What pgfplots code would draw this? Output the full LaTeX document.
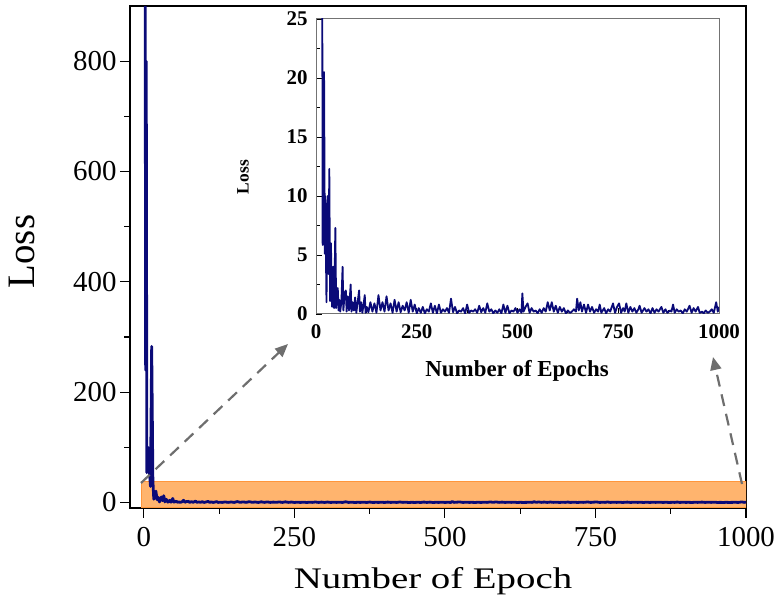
\documentclass[border=0pt]{standalone}
\usepackage{pgfplots}
\pgfplotsset{compat=1.18}
\usepackage{pgfplotstable}
\usepackage{fontspec}
\setmainfont{Liberation Serif}
\usetikzlibrary{arrows.meta}
\definecolor{navy}{RGB}{10,10,120}
\definecolor{boxfill}{RGB}{255,180,110}
\definecolor{boxdraw}{RGB}{255,150,60}
\definecolor{arr}{RGB}{110,110,110}

\pgfplotstableread{
x y
1 2000
3 240
4 800
5 54
7 100
9 60
11 29
13 283
15 40
16.5 5.85
18 15
20 20.5
22 5.1
23 10
26 1.0
29 10
31 3.4
33 12.3
35 1.1
37 6
40 0.6
43 4
45 0.5
48 7.3
50 0.5
52 1.5
54 2.2
56 0.3
58 1.2
60 0.2
63 1.0
66 4.0
68 0.3
71 1.8
74 2.0
76 0.2
79 1.5
82 0.3
86 2.5
88 0.2
91 1.0
94 0.3
97 1.4
100 0.1
103 0.9
107 2.0
109 0.2
112 1.0
115 0.1
118 0.8
121 1.6
123 0.1
126 0.6
130 0.15
135 1.0
140 0.2
145 0.9
150 0.1
155 1.6
160 0.3
165 1.0
170 0.2
175 1.5
180 0.3
185 0.9
190 0.1
195 1.2
200 0.2
205 1.0
210 0.15
215 0.7
220 0.3
225 1.0
230 0.1
235 1.2
240 0.2
245 0.8
250 0.05
255 0.5
260 0.1
265 0.6
270 0.05
275 0.4
280 0.2
285 0.9
290 0.1
295 0.7
300 0.05
305 0.8
310 0.1
315 0.4
320 0.2
325 0.5
330 0.1
335 1.3
340 0.15
345 0.6
350 0.05
355 0.3
360 0.2
365 0.5
370 0.05
375 0.8
380 0.1
385 0.3
390 0.2
395 0.4
400 0.1
405 0.7
410 0.15
415 0.5
420 0.1
425 0.9
430 0.2
435 0.4
440 0.05
445 0.3
450 0.1
455 0.4
460 0.05
465 0.8
470 0.1
475 0.7
480 0.05
485 0.3
490 0.2
495 0.5
500 0.1
505 0.4
510 0.1
512 1.75
515 0.2
520 0.6
525 0.9
530 0.1
535 0.5
540 0.2
545 0.3
550 0.05
555 0.4
560 0.1
565 0.5
570 0.2
575 1.0
580 0.3
585 1.0
590 0.2
595 0.7
600 0.1
605 0.6
610 0.2
615 0.5
620 0.05
625 0.3
630 0.1
635 0.2
640 0.4
645 0.2
648 1.3
652 0.3
656 1.0
660 0.2
665 0.8
670 0.1
675 0.8
680 0.2
685 0.6
690 0.1
695 0.4
700 0.2
704 0.8
708 0.1
715 0.5
720 0.05
725 0.4
730 0.2
737 0.9
742 0.1
747 0.6
752 0.9
757 0.1
762 0.5
766 0.2
770 0.9
775 0.1
780 0.6
785 0.2
790 0.5
795 0.1
800 0.4
803 0.7
808 0.1
815 0.5
820 0.2
825 0.4
830 0.05
835 0.5
840 0.1
845 0.4
850 0.2
857 0.6
862 0.1
867 0.4
872 0.1
878 0.3
882 0.2
886 0.8
890 0.1
895 0.4
900 0.2
905 0.3
910 0.05
915 0.4
920 0.2
927 0.7
932 0.1
937 0.5
942 0.2
948 0.6
952 0.1
958 0.2
962 0.05
967 0.3
972 0.1
977 0.2
982 0.4
987 0.1
993 1.0
997 0.2
1000 0.6
}\lossdata

\begin{document}
\begin{tikzpicture}
\useasboundingbox (0bp,0bp) rectangle (778bp,612bp);
\begin{axis}[at={(130bp,104bp)}, anchor=south west, scale only axis,
  width=616bp, height=502bp,
  xmin=-23, xmax=1000, ymin=-10, ymax=900,
  xtick={0,250,500,750,1000}, ytick={0,200,400,600,800},
  minor x tick num=1, minor y tick num=1,
  tick align=outside, xtick pos=bottom, ytick pos=left,
  major tick length=10bp, minor tick length=6bp,
  tick style={black, line width=1.1bp},
  axis line style={line width=1.2bp},
  ticklabel style={font=\fontsize{29}{29}\selectfont},
  xticklabel style={yshift=-6bp},
  /pgf/number format/assume math mode=true,
  /pgf/number format/1000 sep={},
  scaled ticks=false,
  xlabel={\scalebox{1.3}[1]{Number of Epoch}},
  xlabel style={font=\fontsize{30}{30}\selectfont, at={(axis description cs:0.492,-0.145)}, anchor=center},
  ylabel={Loss},
  ylabel style={font=\fontsize{39}{39}\selectfont, at={(axis description cs:-0.175,0.511)}, anchor=center},
  restrict y to domain*=-20:3000,
]
\fill[boxfill, draw=boxdraw, line width=1bp] (axis cs:-4,-9) rectangle (axis cs:1000,38);
\addplot[navy, line width=2.8bp, line join=round] table {\lossdata};
\end{axis}

\begin{axis}[at={(316bp,298bp)}, anchor=south west, scale only axis,
  width=403bp, height=295bp,
  xmin=0, xmax=1000, ymin=0, ymax=25,
  xtick={0,250,500,750,1000}, ytick={0,5,10,15,20,25},
  minor x tick num=1, minor y tick num=1,
  tick align=inside, xtick pos=bottom, ytick pos=left,
  major tick length=6bp, minor tick length=3.5bp,
  tick style={black, line width=0.8bp},
  axis line style={draw=black!55, line width=1bp},
  axis background/.style={fill=white},
  ticklabel style={font=\bfseries\fontsize{21}{21}\selectfont},
  xticklabel style={yshift=-7bp},
  yticklabel style={xshift=-5bp},
  /pgf/number format/assume math mode=true,
  /pgf/number format/1000 sep={},
  scaled ticks=false,
  xlabel={Number of Epochs},
  xlabel style={font=\bfseries\fontsize{23}{23}\selectfont, at={(axis description cs:0.499,-0.193)}, anchor=center},
  ylabel={Loss},
  ylabel style={font=\bfseries\fontsize{17.5}{17.5}\selectfont, at={(axis description cs:-0.181,0.464)}, anchor=center},
  restrict y to domain*=-1:60,
]
\addplot[navy, line width=1.8bp, line join=round] table {\lossdata};
\end{axis}

\draw[arr, line width=2.2bp, dash pattern=on 12bp off 8bp, -{Triangle[length=13bp,width=11bp]}] (141bp,129bp) -- (288bp,268bp);
\draw[arr, line width=2.2bp, dash pattern=on 12bp off 8bp, -{Triangle[length=13bp,width=11bp]}] (742bp,128bp) -- (713bp,255bp);
\end{tikzpicture}
\end{document}
